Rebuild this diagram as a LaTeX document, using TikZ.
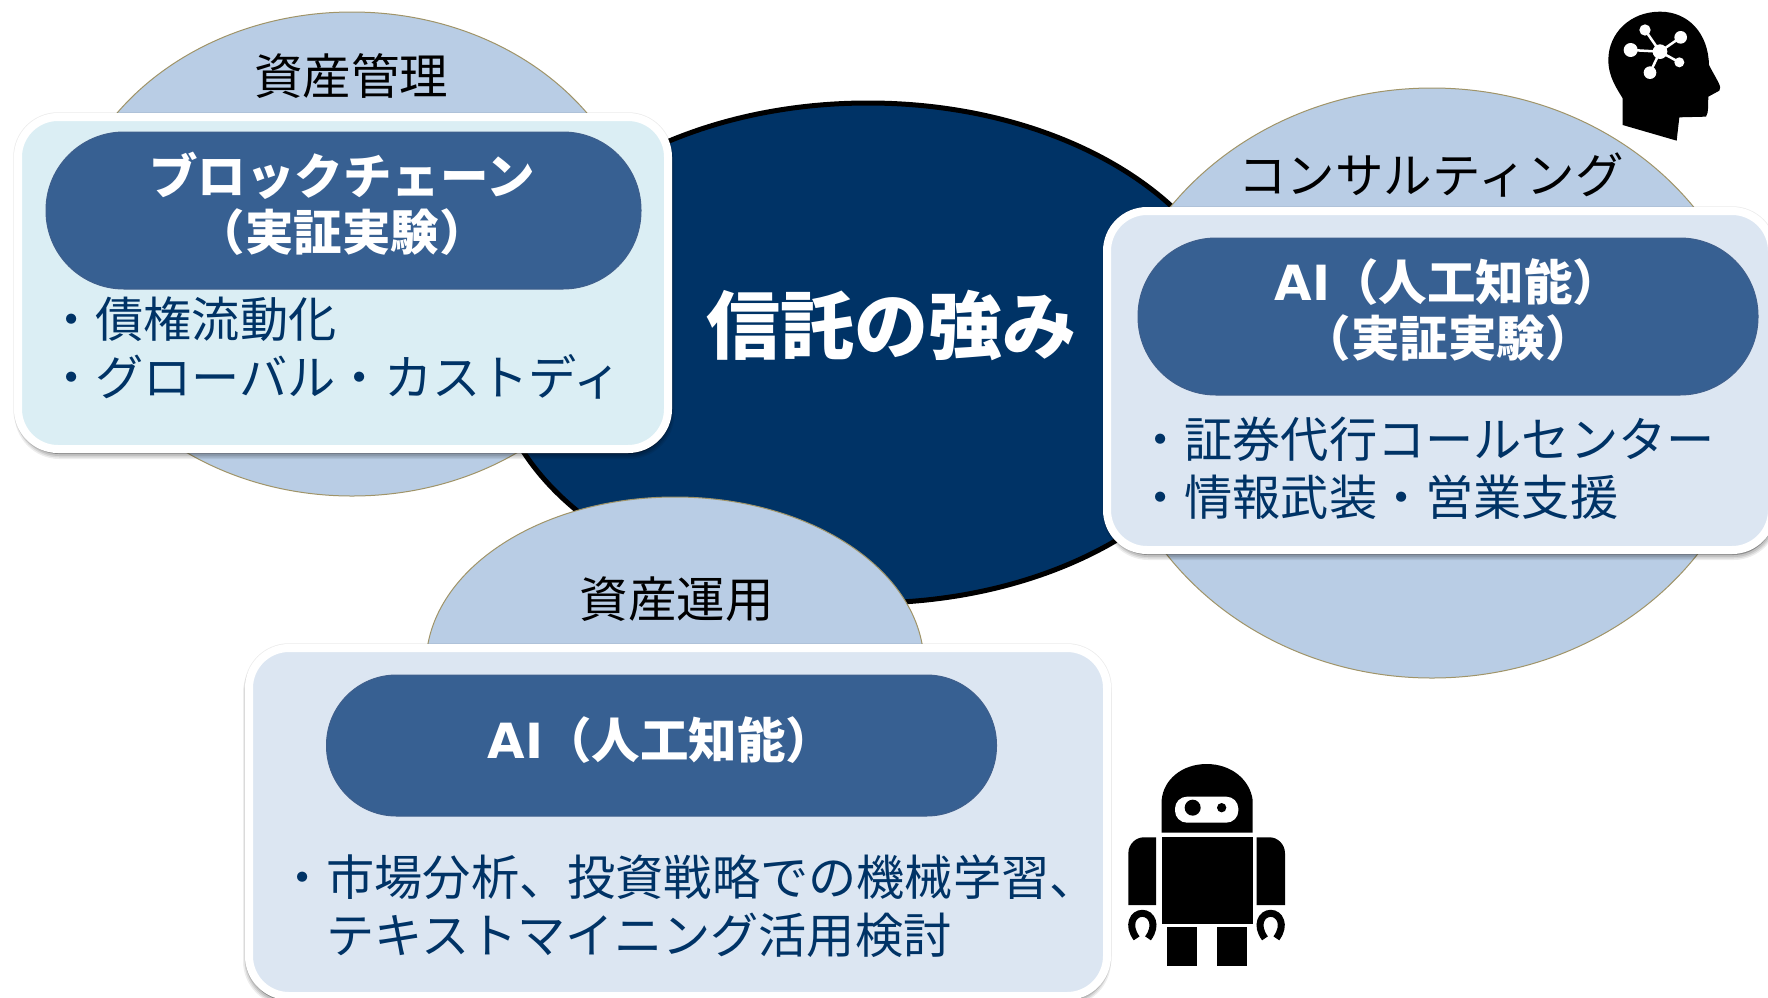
\documentclass[tikz,border=0pt]{standalone}
\usepackage{fontspec}
\setmainfont{Noto Sans CJK JP}
\newfontfamily\latinbold{DejaVu Sans}[BoldFont={DejaVu Sans Bold}]
\definecolor{navy}{HTML}{003366}
\definecolor{skyfill}{HTML}{B9CDE5}
\definecolor{olive}{HTML}{A09468}
\definecolor{cyanbox}{HTML}{DBEEF4}
\definecolor{bluebox}{HTML}{DCE6F2}
\definecolor{pillfill}{HTML}{376092}
\definecolor{pilledge}{HTML}{3F5F8C}
\definecolor{bodytext}{HTML}{003366}
\tikzset{
  x=1pt,y=-1pt,
  domainshape/.style={draw=olive,line width=1pt,fill=skyfill},
  halo/.style={draw=black,opacity=.08,line width=9.5pt,rounded corners=40pt},
  shadowa/.style={draw=black,fill=black,opacity=.07,line width=10pt,rounded corners=40pt},
  shadowb/.style={draw=black,fill=black,opacity=.09,line width=7pt,rounded corners=40pt},
  shadowc/.style={draw=black,fill=black,opacity=.10,line width=4pt,rounded corners=40pt},
  panelbox/.style={draw=white,line width=8pt,rounded corners=40pt},
  pillbox/.style={fill=pillfill,draw=pilledge,line width=1pt},
  headtext/.style={font=\bfseries\fontsize{48.5}{56}\selectfont,text=white,align=center,inner sep=0pt},
  bodytxt/.style={font=\fontsize{48.2}{57.5}\selectfont,text=bodytext,align=left,inner sep=0pt,anchor=north west},
  dlabel/.style={font=\fontsize{48.5}{56}\selectfont,text=black,inner sep=0pt},
  iconb/.style={fill=black,draw=none},
  iconw/.style={fill=white,draw=none},
}
\newcommand{\AIlat}{{\latinbold\bfseries AI}}
\begin{document}
\begin{tikzpicture}
\path[use as bounding box] (0,0) rectangle (1768,997);
\clip (0,0) rectangle (1768,997);
% domain ellipses
\draw[domainshape] (352,254) ellipse [x radius=289,y radius=242];
\draw[fill=navy,draw=black,line width=5pt] (868,353) ellipse [x radius=375,y radius=250];
\draw[domainshape] (1432,383) ellipse [x radius=326,y radius=295];
\draw[domainshape] (675,665) ellipse [x radius=249,y radius=168];
% panels
\foreach \a/\b/\c/\d/\e in {18/117/668/449/1.5,1107/211/1772/550/1.5,249/648/1107/996/-1}{
  \draw[halo] (\a,\b) rectangle (\c,\d);
  \begin{scope}[shift={(\e,5)}]
  \draw[shadowa] (\a,\b) rectangle (\c,\d);
  \draw[shadowb] (\a,\b) rectangle (\c,\d);
  \draw[shadowc] (\a,\b) rectangle (\c,\d);
  \end{scope}
}
\draw[panelbox,fill=cyanbox] (18,117) rectangle (668,449);
\draw[panelbox,fill=bluebox] (1107,211) rectangle (1772,550);
\draw[panelbox,fill=bluebox] (249,648) rectangle (1107,996);
% pills
\draw[pillbox,rounded corners=78pt] (46,132) rectangle (641,289);
\draw[pillbox,rounded corners=78pt] (1138,238) rectangle (1758,395);
\draw[pillbox,rounded corners=70pt] (326.5,675) rectangle (996.5,816);
% labels
\node[dlabel] (t1) at (351,76) {資産管理};
\node[dlabel] (t2) at (1431,175) {コンサルティング};
\node[dlabel] (t3) at (676.5,599) {資産運用};
\node[font=\bfseries\fontsize{74}{80}\selectfont,text=white,inner sep=0pt] (center) at (891,325) {信託の強み};
\node[headtext] (h1) at (342,204) {ブロックチェーン\\（実証実験）};
\node[headtext] (h2) at (1448,310) {\AIlat（人工知能）\\（実証実験）};
\node[headtext] (h3) at (661,740) {\AIlat（人工知能）};
\node[bodytxt] (b1) at (47,297) {・債権流動化\\・グローバル・カストディ};
\node[bodytxt] (b2) at (1136,417) {・証券代行コールセンター\\・情報武装・営業支援};
\node[bodytxt] (b3) at (278,855) {・市場分析、投資戦略での機械学習、\\\phantom{・}テキストマイニング活用検討};
% head icon
\begin{scope}[shift={(1560,0)},x=0.3333pt,y=-0.3333pt]
\fill[iconb] (188,375) -- (350,422) -- (358,352) -- (438,350) .. controls (446,340) and (444,310) .. (445,290) -- (478,272) .. controls (488,262) and (470,240) .. (447,195) .. controls (445,100) and (385,35) .. (300,35) .. controls (210,35) and (145,100) .. (145,180) .. controls (145,230) and (170,265) .. (188,295) -- cycle;
\draw[white,line width=2.5pt] (255,90) -- (300,155) -- (362,112) (212,150) -- (300,155) -- (358,187) (300,155) -- (270,218);
\fill[iconw] (300,155) circle [radius=22] (255,90) circle [radius=17] (362,112) circle [radius=19] (212,150) circle [radius=21] (358,187) circle [radius=15] (270,218) circle [radius=19];
\end{scope}
% robot icon
\begin{scope}[shift={(1100,750)},x=0.3333pt,y=-0.3333pt]
\fill[iconb] (185,248) -- (185,150) .. controls (190,90) and (245,42) .. (320,42) .. controls (395,42) and (450,90) .. (458,150) -- (458,248) -- cycle;
\fill[iconw,rounded corners=12pt] (225,140) rectangle (415,218);
\fill[iconb] (278,173) circle [radius=24] (365,173) circle [radius=14];
\fill[iconb] (185,262) rectangle (460,522);
\fill[iconb] (85,465) -- (85,310) .. controls (85,280) and (110,262) .. (130,262) -- (168,262) -- (168,465) -- cycle;
\fill[iconb] (555,465) -- (555,310) .. controls (555,280) and (530,262) .. (510,262) -- (470,262) -- (470,465) -- cycle;
\fill[iconb] (200,532) rectangle (292,648);
\fill[iconb] (350,532) rectangle (442,648);
\draw[black,line width=7pt] (110,565) .. controls (80,525) and (100,490) .. (127,490) .. controls (154,490) and (174,525) .. (144,565);
\draw[black,line width=7pt] (495,565) .. controls (465,525) and (485,490) .. (512,490) .. controls (539,490) and (559,525) .. (529,565);
\end{scope}
\end{tikzpicture}
\end{document}
